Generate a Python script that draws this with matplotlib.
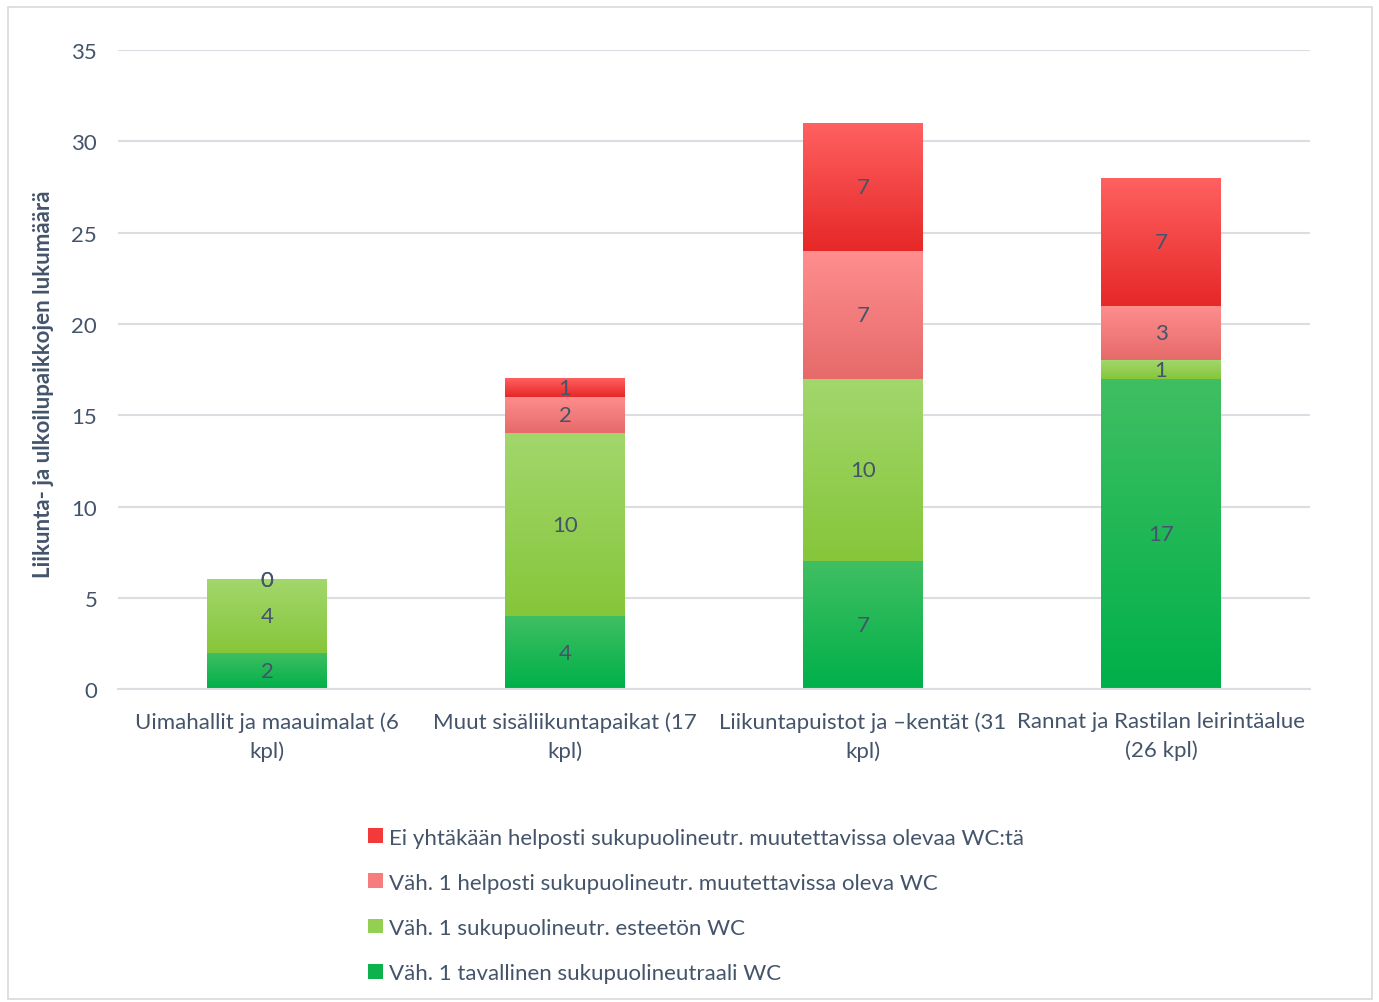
import numpy as np
import matplotlib.pyplot as plt
from matplotlib.patches import Rectangle, Patch
from matplotlib.colors import LinearSegmentedColormap

plt.rcParams['font.family'] = ['Lato', 'DejaVu Sans']

categories = [
    "Uimahallit ja maauimalat (6\nkpl)",
    "Muut sisäliikuntapaikat (17\nkpl)",
    "Liikuntapuistot ja \u2013kentät (31\nkpl)",
    "Rannat ja Rastilan leirintäalue\n(26 kpl)",
]
series_names = [
    "Väh. 1 tavallinen sukupuolineutraali WC",
    "Väh. 1 sukupuolineutr. esteetön WC",
    "Väh. 1 helposti sukupuolineutr. muutettavissa oleva WC",
    "Ei yhtäkään helposti sukupuolineutr. muutettavissa olevaa WC:tä",
]
tavallinen = [2, 4, 7, 17]
esteeton = [4, 10, 10, 1]
muutettava = [0, 2, 7, 3]
ei_yhtaan = [0, 1, 7, 7]
series = [tavallinen, esteeton, muutettava, ei_yhtaan]

# gradient colours (top, bottom) for each series
grad = [
    ("#40bf62", "#00b04a"),
    ("#a2d76c", "#86c63a"),
    ("#ff8e8e", "#e66a6a"),
    ("#ff6060", "#e62828"),
]
solid = ["#0cb24c", "#93cf50", "#f57d7d", "#f23a3a"]
text_color = "#44546a"
fs = 16

fig = plt.figure(figsize=(13.79, 10.03), dpi=100)
ax = fig.add_axes([0.0856, 0.312, 0.8644, 0.637])

# outer chart border
fig.patches.append(Rectangle((8 / 1379, 3 / 1003), 1364 / 1379, 992 / 1003,
                             transform=fig.transFigure, fill=False,
                             edgecolor="#d9d9d9", linewidth=1.2))

x = np.arange(len(categories))
width = 0.4
bottom = np.zeros(len(categories))
for i, vals in enumerate(series):
    vals = np.array(vals, dtype=float)
    bars = ax.bar(x, vals, width, bottom=bottom, color="none",
                  edgecolor="none", zorder=2)
    cmap = LinearSegmentedColormap.from_list("g%d" % i, [grad[i][1], grad[i][0]])
    for rect, v, b in zip(bars, vals, bottom):
        if v > 0:
            x0 = rect.get_x()
            ax.imshow(np.linspace(0, 1, 100).reshape(-1, 1), cmap=cmap,
                      origin="lower", aspect="auto", interpolation="bicubic",
                      extent=[x0, x0 + rect.get_width(), b, b + v], zorder=2)
        ax.text(rect.get_x() + rect.get_width() / 2, b + v / 2, "%d" % v,
                ha="center", va="center", fontsize=fs, color=text_color,
                zorder=3)
    bottom += vals

ax.set_xlim(-0.5, len(categories) - 0.5)
ax.set_ylim(0, 35)
ax.set_yticks(np.arange(0, 36, 5))
ax.set_xticks(x)
ax.set_xticklabels(categories, fontsize=fs, color=text_color, linespacing=1.5)
ax.tick_params(axis="y", length=0, pad=15, labelsize=fs, labelcolor=text_color)
ax.tick_params(axis="x", length=0, pad=16)
ax.grid(axis="y", color="#dcdde3", linewidth=1.5, zorder=0)
ax.set_axisbelow(True)
for s in ["top", "right", "left"]:
    ax.spines[s].set_visible(False)
ax.spines["bottom"].set_color("#dcdde3")
ax.spines["bottom"].set_linewidth(1.5)

ax.set_ylabel("Liikunta- ja ulkoilupaikkojen lukumäärä", fontsize=fs,
              fontweight="bold", color=text_color)
ax.yaxis.set_label_coords(-0.054, 0.479)

handles = [Patch(facecolor=solid[i], edgecolor="none") for i in range(4)][::-1]
labels = series_names[::-1]
fig.legend(handles, labels, loc="upper left", bbox_to_anchor=(0.259, 0.185),
           frameon=False, fontsize=fs, labelcolor=text_color,
           handlelength=0.65, handleheight=0.65, handletextpad=0.3,
           labelspacing=1.13, borderpad=0)

fig.savefig("out.png", dpi=100, facecolor="white")
